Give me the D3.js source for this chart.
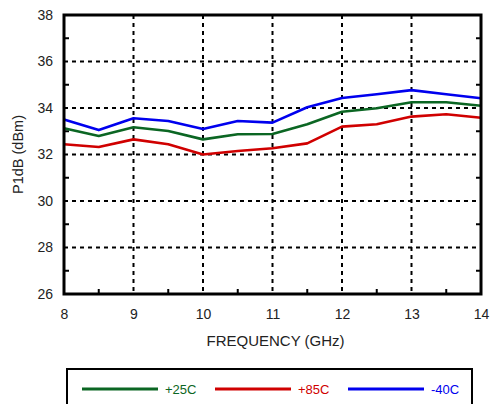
<!DOCTYPE html>
<html>
<head>
<meta charset="utf-8">
<script src="https://cdn.jsdelivr.net/npm/d3@7"></script>
<style>
  body { margin: 0; background: #fff; }
  svg { display: block; font-family: "Liberation Sans", Arial, sans-serif; }
</style>
</head>
<body>
<svg id="chart" width="491" height="404"></svg>
<script>
// Frequency points (GHz)
const freqs = [8, 8.5, 9, 9.5, 10, 10.5, 11, 11.5, 12, 12.5, 13, 13.5, 14];

// P1dB per temperature (dBm)
const p25 = [33.13, 32.8, 33.17, 33.01, 32.65, 32.87, 32.88, 33.3, 33.84, 33.99, 34.25, 34.25, 34.1];
const p85 = [32.44, 32.32, 32.65, 32.44, 32.0, 32.15, 32.27, 32.48, 33.2, 33.3, 33.63, 33.73, 33.58];
const m40 = [33.51, 33.05, 33.56, 33.44, 33.1, 33.44, 33.37, 34.03, 34.43, 34.59, 34.77, 34.59, 34.42];

const seriesNames = ['+25C', '+85C', '-40C'];
const seriesColors = ['#0b6623', '#d00000', '#0000ee'];
const seriesValues = [p25, p85, m40];

const xTicks = [8, 9, 10, 11, 12, 13, 14];
const yTicks = [26, 28, 30, 32, 34, 36, 38];

const margin = { left: 64, top: 15, right: 10, bottom: 110 };
const width = 481 - margin.left;
const height = 294 - margin.top;

const svg = d3.select('#chart');
const g = svg.append('g').attr('transform', `translate(${margin.left},${margin.top})`);

const x = d3.scaleLinear().domain([8, 14]).range([0, width]);
const y = d3.scaleLinear().domain([26, 38]).range([height, 0]);

// Dashed grid
g.selectAll('.vgrid')
  .data(xTicks.slice(1, -1))
  .enter().append('line')
  .attr('x1', d => x(d)).attr('x2', d => x(d))
  .attr('y1', 0).attr('y2', height)
  .attr('stroke', '#000').attr('stroke-width', 2)
  .attr('stroke-dasharray', '4,4');

g.selectAll('.hgrid')
  .data(yTicks.slice(1, -1))
  .enter().append('line')
  .attr('x1', 0).attr('x2', width)
  .attr('y1', d => y(d)).attr('y2', d => y(d))
  .attr('stroke', '#000').attr('stroke-width', 2)
  .attr('stroke-dasharray', '4,4');

// Minor ticks (inside)
const minorX = d3.range(8.5, 14, 1);
const minorY = d3.range(27, 38, 2);
g.selectAll('.mx')
  .data(minorX)
  .enter().append('line')
  .attr('x1', d => x(d)).attr('x2', d => x(d))
  .attr('y1', height).attr('y2', height - 5)
  .attr('stroke', '#000').attr('stroke-width', 2);
g.selectAll('.myl')
  .data(minorY)
  .enter().append('line')
  .attr('x1', 0).attr('x2', 5)
  .attr('y1', d => y(d)).attr('y2', d => y(d))
  .attr('stroke', '#000').attr('stroke-width', 2);
g.selectAll('.myr')
  .data(minorY)
  .enter().append('line')
  .attr('x1', width).attr('x2', width - 5)
  .attr('y1', d => y(d)).attr('y2', d => y(d))
  .attr('stroke', '#000').attr('stroke-width', 2);

// Series lines
const line = d3.line()
  .x((d, i) => x(freqs[i]))
  .y(d => y(d));

seriesValues.forEach((vals, i) => {
  g.append('path')
    .datum(vals)
    .attr('fill', 'none')
    .attr('stroke', seriesColors[i])
    .attr('stroke-width', 2.6)
    .attr('stroke-linejoin', 'round')
    .attr('d', line);
});

// Frame
g.append('rect')
  .attr('x', 0).attr('y', 0)
  .attr('width', width).attr('height', height)
  .attr('fill', 'none')
  .attr('stroke', '#000')
  .attr('stroke-width', 3);

// Axes labels via d3 axes (no lines)
const xAxis = g.append('g')
  .attr('transform', `translate(0,${height})`)
  .call(d3.axisBottom(x).tickValues(xTicks).tickSize(0).tickPadding(15).tickFormat(d3.format('d')));
xAxis.select('.domain').remove();
xAxis.selectAll('text').attr('font-size', 14).attr('fill', '#222').style('font-family', '"Liberation Sans", Arial, sans-serif');

const yAxis = g.append('g')
  .call(d3.axisLeft(y).tickValues(yTicks).tickSize(0).tickPadding(11).tickFormat(d3.format('d')));
yAxis.select('.domain').remove();
yAxis.selectAll('text').attr('font-size', 14).attr('fill', '#222').style('font-family', '"Liberation Sans", Arial, sans-serif');

// Axis titles
svg.append('text')
  .attr('x', margin.left + width / 2 + 3)
  .attr('y', 346)
  .attr('text-anchor', 'middle')
  .attr('font-size', 15)
  .attr('fill', '#222')
  .text('FREQUENCY (GHz)');

svg.append('text')
  .attr('transform', `translate(23,${margin.top + height / 2}) rotate(-90)`)
  .attr('text-anchor', 'middle')
  .attr('font-size', 14.5)
  .attr('fill', '#222')
  .text('P1dB (dBm)');

// Legend
svg.append('rect')
  .attr('x', 67).attr('y', 369)
  .attr('width', 405).attr('height', 50)
  .attr('fill', 'none')
  .attr('stroke', '#000')
  .attr('stroke-width', 2);

const legendX = [82, 215, 348];
seriesNames.forEach((name, i) => {
  svg.append('line')
    .attr('x1', legendX[i]).attr('x2', legendX[i] + 76)
    .attr('y1', 389).attr('y2', 389)
    .attr('stroke', seriesColors[i])
    .attr('stroke-width', 3);
  svg.append('text')
    .attr('x', legendX[i] + 83)
    .attr('y', 394)
    .attr('font-size', 13)
    .attr('fill', seriesColors[i])
    .text(name);
});
</script>
</body>
</html>
